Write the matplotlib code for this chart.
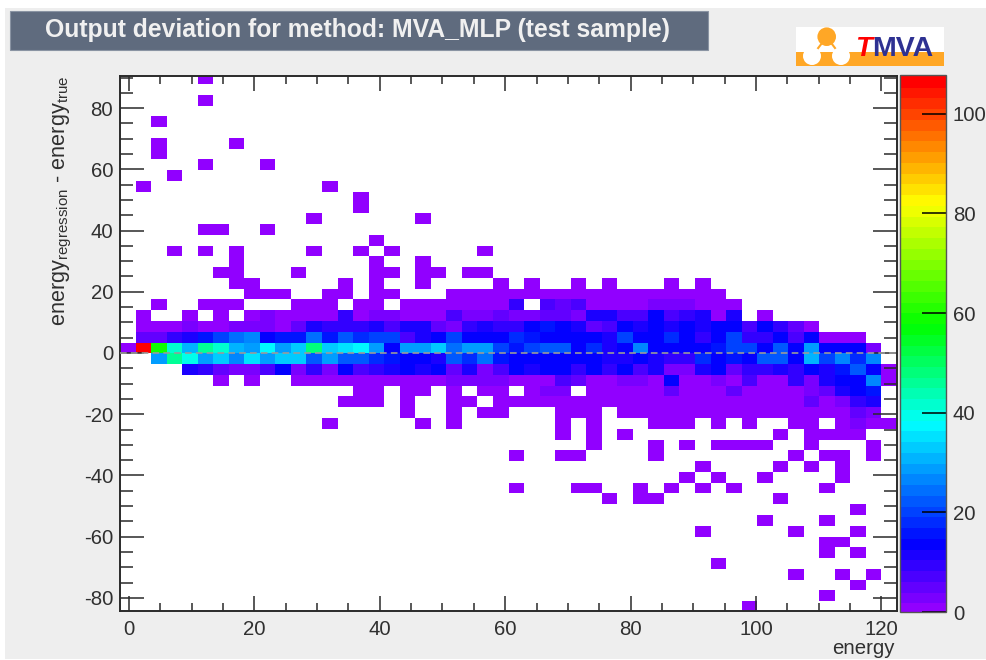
import numpy as np
import matplotlib
matplotlib.use("Agg")
import matplotlib.pyplot as plt
from matplotlib.colors import LinearSegmentedColormap
from matplotlib.patches import Rectangle, Circle
from matplotlib.ticker import MultipleLocator, FixedLocator

plt.rcParams['font.family'] = ['Liberation Sans', 'DejaVu Sans']
plt.rcParams['mathtext.fontset'] = 'custom'
plt.rcParams['mathtext.rm'] = 'Liberation Sans'
plt.rcParams['mathtext.default'] = 'rm'
plt.rcParams['axes.unicode_minus'] = False

TITLE = "Output deviation for method: MVA_MLP (test sample)"
XLABEL = "energy"
YLABEL = r"energy$_{\mathrm{regression}}$ - energy$_{\mathrm{true}}$"

# Histogram bin edges
x_edges = np.linspace(-1.44, 122.5, 51)
y_edges = np.linspace(91.4, -84.6, 51)   # row 0 is the top row

# Rows holding single isolated entries: row -> columns (count of 1)
sparse_rows = {
    0: [5], 2: [5], 4: [2], 6: [2, 7], 7: [2], 8: [5, 9], 9: [3], 10: [1, 13],
    11: [15], 12: [15], 13: [12, 19], 14: [5, 6, 9], 15: [16],
    16: [3, 5, 7, 12, 15, 17, 23], 17: [7, 16, 19],
    18: [6, 11, 16, 17, 19, 20, 22, 23],
    19: [7, 8, 14, 16, 19, 24, 26, 29, 31, 35, 37],
    29: [15, 16, 18, 19, 21, 23, 24, 26, 32, 34],
    30: [14, 15, 16, 18, 21, 22, 24, 25, 27, 28, 29, 30, 31, 33, 34, 36, 38, 39, 45],
    31: [18, 21, 23, 24, 28, 29, 30, 32, 33, 34, 36, 37, 38, 40, 41, 42, 43, 44, 46],
    32: [13, 19, 21, 28, 30, 34, 35, 36, 40, 43, 44, 46, 48, 49],
    33: [28, 30, 32, 44, 45, 46, 47],
    34: [30, 34, 36, 38, 39, 40, 41, 44],
    35: [25, 28, 29, 34, 43, 45, 46, 48],
    36: [37, 42, 44, 46],
    37: [36, 38, 41, 46],
    38: [25, 29, 30, 33, 35, 37, 39, 45],
    39: [31, 33, 34, 42],
    40: [47], 41: [41, 45], 42: [37, 43, 47], 43: [45, 46], 44: [45, 47],
    45: [38], 46: [43, 46, 48], 47: [47], 48: [45], 49: [40],
}

# Rows with varying counts: 50 columns each
row_20 = [0,0,0,0,0,0,0,0,1,1,1,0,0,1,1,0,1,1,0,0,0,1,1,2,2,1,2,2,1,1,1,1,1,1,2,2,2,1,1,0,0,0,0,0,0,0,0,0,0,0]
row_21 = [0,0,1,0,0,1,1,2,0,0,0,1,1,2,0,1,1,0,1,1,1,1,1,2,2,9,0,7,6,7,2,2,2,2,4,4,4,2,2,2,0,0,0,0,0,0,0,0,0,0]
row_22 = [0,1,0,0,1,0,1,0,1,4,1,2,2,2,9,2,4,4,1,2,2,7,4,4,6,4,4,6,6,4,12,12,7,7,13,7,9,12,2,11,0,1,0,0,0,0,0,0,0,0]
row_23 = [0,1,2,1,4,2,2,4,4,4,1,6,12,10,9,9,12,7,11,12,6,4,9,11,10,10,13,17,13,11,6,7,14,11,14,12,14,12,14,14,7,14,10,6,2,0,0,0,0,0]
row_24 = [0,6,6,9,12,16,20,24,26,14,16,17,24,16,22,18,21,21,7,12,14,20,14,15,14,19,16,14,15,14,14,11,20,13,15,19,14,9,14,20,9,10,13,7,14,2,1,1,0,0]
row_25 = [1,107,60,42,32,46,42,32,30,38,30,33,48,33,35,38,30,15,30,30,33,24,29,29,20,16,21,22,23,15,18,11,14,27,14,14,14,13,16,21,20,13,23,15,29,13,13,13,4,0]
row_26 = [0,0,30,46,40,30,33,26,36,30,33,34,22,30,22,22,18,16,14,15,12,22,18,24,16,14,14,15,14,14,14,12,12,13,11,9,10,19,14,17,14,22,22,14,32,20,28,19,27,0]
row_27 = [0,0,0,0,11,10,6,4,4,7,14,4,10,4,14,7,9,11,14,11,14,6,12,4,7,14,11,14,14,10,14,9,14,7,12,4,4,11,15,6,10,10,11,10,13,11,16,22,14,1]
row_28 = [0,0,0,0,0,0,1,0,1,0,0,1,2,2,2,2,2,2,1,1,2,4,4,4,4,2,2,2,7,6,1,2,4,4,2,14,2,2,4,2,7,2,2,10,4,12,14,15,26,1]
row_29_extra = {27: 4, 28: 4, 30: 2, 31: 2, 33: 2, 35: 6, 36: 2, 37: 2, 38: 2, 39: 6, 40: 2, 41: 2, 42: 2, 43: 2, 44: 4, 45: 6, 46: 12, 47: 13, 48: 16}
row_30_extra = {26: 2, 32: 2, 35: 2, 37: 2, 40: 2, 41: 2, 42: 2, 43: 2, 44: 6, 46: 4, 47: 9, 48: 12}
row_31_extra = {35: 2, 39: 2, 45: 2, 47: 6, 48: 4}
row_32_extra = {38: 2, 47: 4}
row_33_extra = {42: 2}
row_34_extra = {48: 2}
row_35_extra = {43: 2}

counts = np.zeros((50, 50))
for r, cols in sparse_rows.items():
    counts[r, cols] = 1
counts[18, 7] = 2
for r, vals in {20: row_20, 21: row_21, 22: row_22, 23: row_23, 24: row_24,
                25: row_25, 26: row_26, 27: row_27, 28: row_28}.items():
    counts[r] = vals
for r, extra in {29: row_29_extra, 30: row_30_extra, 31: row_31_extra, 32: row_32_extra,
                 33: row_33_extra, 34: row_34_extra, 35: row_35_extra}.items():
    for c, v in extra.items():
        counts[r, c] = v

VMAX = 107.8
anchors = [(0, (145, 0, 255)), (13.5, (0, 0, 255)), (38, (0, 255, 255)),
           (58, (0, 255, 0)), (83, (255, 255, 0)), (VMAX, (255, 0, 0))]
cmap = LinearSegmentedColormap.from_list(
    "root_rainbow",
    [(v / VMAX, tuple(ch / 255 for ch in c)) for v, c in anchors], N=50)
cmap.set_bad((1, 1, 1, 0))

W, H = 987, 660
fig = plt.figure(figsize=(W / 100, H / 100), dpi=100, facecolor='white')

def box(x0, y0, x1, y1):
    return [x0 / W, 1 - y1 / H, (x1 - x0) / W, (y1 - y0) / H]

# Page furniture, in pixel coordinates
bg = fig.add_axes([0, 0, 1, 1], zorder=0)
bg.set_xlim(0, W)
bg.set_ylim(H, 0)
bg.axis('off')
bg.add_patch(Rectangle((5, 8), W - 5, H - 9, fc='#EEEEEE', ec='none'))
bg.add_patch(Rectangle((10, 11), 698, 39, fc='#5F6B7E', ec='#8A94A3', lw=0.8))
bg.text(357.5, 30, TITLE, color='#F0F0F0', fontsize=17.8, fontweight='bold', ha='center', va='center')

# TMVA logo
bg.add_patch(Rectangle((796, 27), 148, 39, fc='white', ec='none'))
bg.add_patch(Rectangle((796, 52), 148, 13.5, fc='#FFA726', ec='none'))
bg.plot([826.7, 812], [37, 56], color='#FFA726', lw=1.5, zorder=3)
bg.plot([826.7, 841], [37, 56], color='#FFA726', lw=1.5, zorder=3)
bg.add_patch(Circle((826.7, 36.7), 9.3, fc='#FFA726', ec='none', zorder=4))
bg.add_patch(Circle((812, 56), 9, fc='white', ec='none', zorder=4))
bg.add_patch(Circle((841, 56), 9, fc='white', ec='none', zorder=4))
bg.text(855, 56, "T", color='#FF0000', fontsize=20, fontweight='bold', fontstyle='italic', ha='left', va='baseline', zorder=5)
bg.text(872, 56, "MVA", color='#2E3192', fontsize=20.5, fontweight='bold', ha='left', va='baseline', zorder=5)

TXT = '#303030'
INK = '#2A2A2A'

# Main histogram
ax = fig.add_axes(box(120, 76, 897, 611), zorder=2, facecolor='white')
mesh = ax.pcolormesh(x_edges, y_edges, np.ma.masked_equal(counts, 0), cmap=cmap,
                     vmin=0, vmax=VMAX, shading='flat')
ax.set_xlim(-1.44, 122.5)
ax.set_ylim(-84.3, 90.5)
ax.axhline(0, color='#9A9A9A', lw=1.2, ls=(0, (4, 2.5)), zorder=5)

ax.xaxis.set_major_locator(MultipleLocator(20))
ax.xaxis.set_minor_locator(MultipleLocator(5))
ax.yaxis.set_major_locator(MultipleLocator(20))
ax.yaxis.set_minor_locator(MultipleLocator(5))
ax.tick_params(axis='x', which='major', direction='in', top=True, bottom=True, length=10.8, width=1.1, color=INK,
               labelsize=14.7, labelcolor=TXT, pad=6.5)
ax.tick_params(axis='x', which='minor', direction='in', top=True, bottom=True, length=5.8, width=1.1, color=INK)
ax.tick_params(axis='y', which='major', direction='in', left=True, right=True, length=17.3, width=1.1, color=INK,
               labelsize=14.7, labelcolor=TXT, pad=5)
ax.tick_params(axis='y', which='minor', direction='in', left=True, right=True, length=9.4, width=1.1, color=INK)
for s in ax.spines.values():
    s.set_color(INK)
    s.set_linewidth(1.4)

bg.text(895, 657.5, XLABEL, color=TXT, fontsize=14.7, ha='right', va='bottom')
bg.text(62, 201, YLABEL, color=TXT, fontsize=15.6, rotation=90, ha='center', va='center')

# Colour scale
cax = fig.add_axes(box(900.5, 75, 946, 612), zorder=2)
cb = fig.colorbar(mesh, cax=cax, ticks=FixedLocator([0, 20, 40, 60, 80, 100]))
cb.solids.set_edgecolor('face')
cb.ax.minorticks_off()
cb.ax.tick_params(which='major', direction='in', right=True, length=17.3, width=1.1, color='black',
                  labelsize=14.7, labelcolor=TXT, pad=5)
cb.outline.set_edgecolor('#555555')
cb.outline.set_linewidth(1.0)

fig.savefig("out.png", dpi=100, facecolor=fig.get_facecolor())
